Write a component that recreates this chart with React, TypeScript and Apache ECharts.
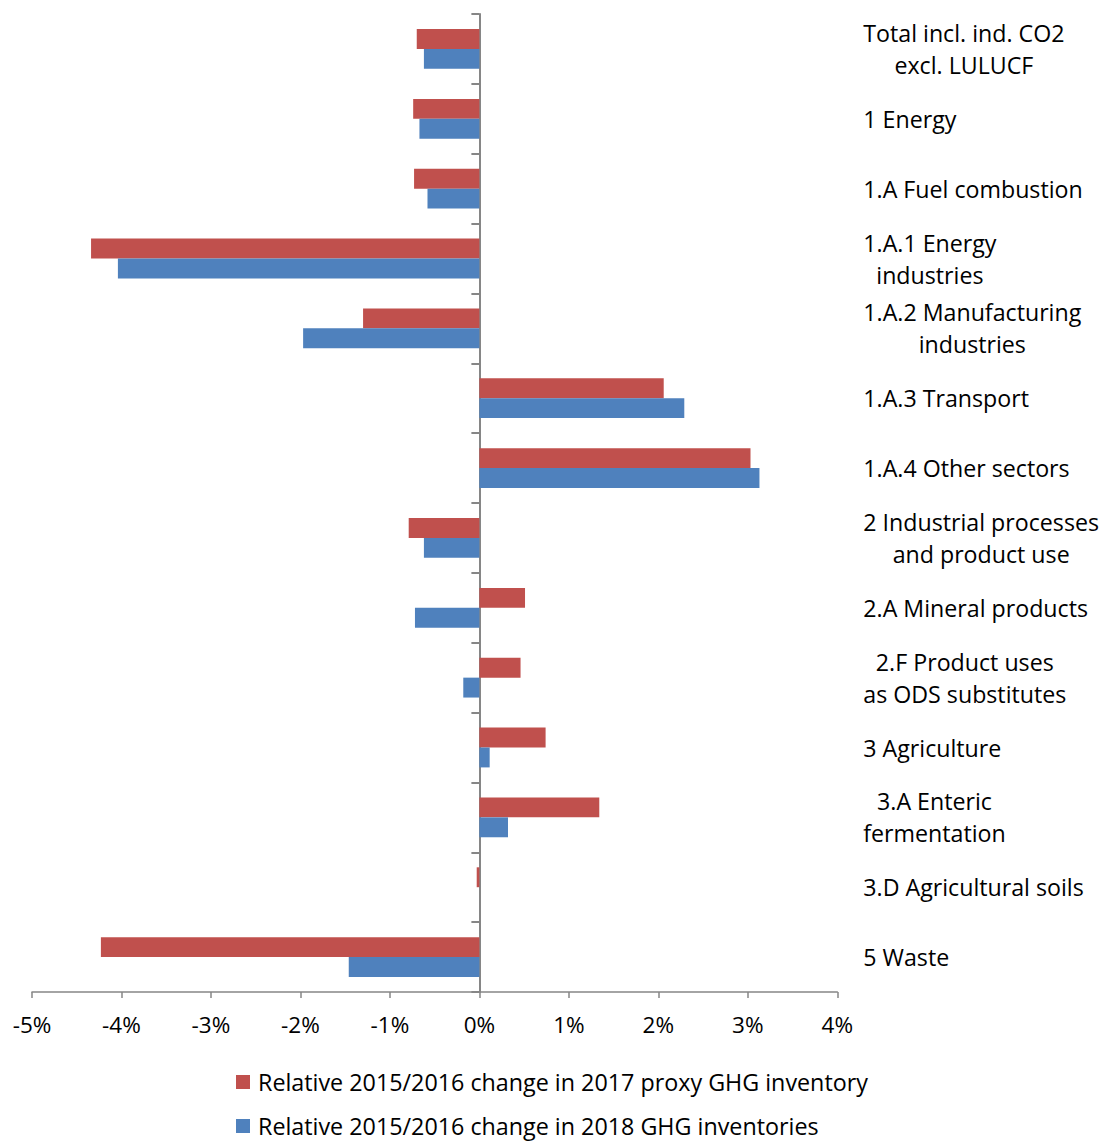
import React, { useEffect, useRef } from "react";
import * as echarts from "echarts";

const categories = [
  "Total incl. ind. CO2\nexcl. LULUCF",
  "1 Energy",
  "1.A Fuel combustion",
  "1.A.1 Energy\nindustries",
  "1.A.2 Manufacturing\nindustries",
  "1.A.3 Transport",
  "1.A.4 Other sectors",
  "2 Industrial processes\nand product use",
  "2.A Mineral products",
  "2.F Product uses\nas ODS substitutes",
  "3 Agriculture",
  "3.A Enteric\nfermentation",
  "3.D Agricultural soils",
  "5 Waste",
];

const proxy2017 = [-0.70, -0.74, -0.73, -4.34, -1.30, 2.06, 3.03, -0.79, 0.51, 0.46, 0.74, 1.34, -0.03, -4.23];
const inv2018 = [-0.62, -0.67, -0.58, -4.04, -1.97, 2.29, 3.13, -0.62, -0.72, -0.18, 0.115, 0.32, 0.0, -1.46];

const seriesNames = [
  "Relative 2015/2016 change in 2017 proxy GHG inventory",
  "Relative 2015/2016 change in 2018 GHG inventories",
];

const xMin = -5;
const xMax = 4;
const xInterval = 1;

const FONT = "Open Sans";

export default function App() {
  const ref = useRef<HTMLDivElement>(null);
  useEffect(() => {
    if (!ref.current) return;
    const chart = echarts.init(ref.current, undefined, { renderer: "svg" });
    const legendBase = {
      orient: "horizontal",
      left: 236,
      padding: 0,
      itemWidth: 14,
      itemHeight: 14,
      itemGap: 8,
      icon: "rect",
      textStyle: { fontFamily: FONT, fontSize: 23.3, lineHeight: 28, color: "#000", padding: [0, 0, 0, 3] },
    };
    chart.setOption({
      animation: false,
      backgroundColor: "#ffffff",
      textStyle: { fontFamily: FONT, color: "#000" },
      grid: { left: 32, right: 264, top: 14, bottom: 150, containLabel: false },
      legend: [
        { ...legendBase, top: 1068, data: [seriesNames[0]] },
        { ...legendBase, top: 1112, data: [seriesNames[1]] },
      ],
      xAxis: {
        type: "value",
        min: xMin,
        max: xMax,
        interval: xInterval,
        axisLine: { show: true, lineStyle: { color: "#868686", width: 1.5 } },
        axisTick: { show: true, length: 6, lineStyle: { color: "#868686", width: 1.5 } },
        splitLine: { show: false },
        axisLabel: {
          formatter: "{value}%",
          fontFamily: FONT,
          fontSize: 22.5,
          color: "#000",
          margin: 21,
        },
      },
      yAxis: [
        {
          type: "category",
          data: categories,
          inverse: true,
          position: "left",
          axisLine: { show: true, onZero: true, lineStyle: { color: "#868686", width: 2 } },
          axisTick: { show: true, length: 8, alignWithLabel: false, lineStyle: { color: "#868686", width: 2 } },
          axisLabel: { show: false },
          splitLine: { show: false },
        },
        {
          type: "category",
          data: categories,
          inverse: true,
          position: "right",
          axisLine: { show: false, onZero: false },
          axisTick: { show: false },
          splitLine: { show: false },
          axisLabel: {
            show: true,
            align: "left",
            margin: 26,
            formatter: (v: string) =>
              v.split("\n").map((l) => `{c|${l}}`).join("\n"),
            rich: {
              c: {
                align: "center",
                fontFamily: FONT,
                fontSize: 23.2,
                lineHeight: 32,
                color: "#000",
              },
            },
          },
        },
      ],
      series: [
        {
          name: seriesNames[0],
          type: "bar",
          yAxisIndex: 0,
          data: proxy2017,
          itemStyle: { color: "#C0504D" },
          barGap: "0%",
          barCategoryGap: "43%",
        },
        {
          name: seriesNames[1],
          type: "bar",
          yAxisIndex: 0,
          data: inv2018,
          itemStyle: { color: "#4F81BD" },
          barGap: "0%",
          barCategoryGap: "43%",
        },
      ],
    });
    return () => chart.dispose();
  }, []);
  return <div ref={ref} style={{ width: 1102, height: 1142, position: "absolute", left: 0, top: 0 }} />;
}
